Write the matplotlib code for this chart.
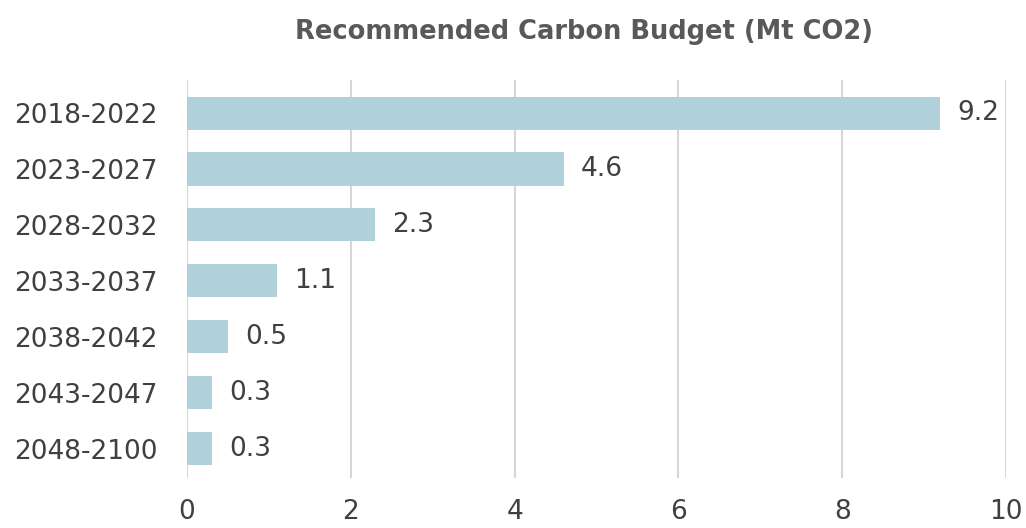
import matplotlib
matplotlib.use('Agg')
import matplotlib.pyplot as plt

periods = ['2018-2022', '2023-2027', '2028-2032', '2033-2037',
           '2038-2042', '2043-2047', '2048-2100']
budget = [9.2, 4.6, 2.3, 1.1, 0.5, 0.3, 0.3]
xticks = [0, 2, 4, 6, 8, 10]

plt.rcParams['font.family'] = ['DejaVu Sans']

fig = plt.figure(figsize=(10.26, 5.28), dpi=100)
ax = fig.add_axes([187/1026, 1-478/528, (1006-187)/1026, (478-80)/528])

ypos = list(range(len(periods)))
ax.barh(ypos, budget, height=0.59, color='#b0d0da', zorder=2)
for y, v in zip(ypos, budget):
    ax.text(v + 0.21, y, f'{v:.1f}', va='center', ha='left',
            fontsize=19, color='#404040')

ax.set_yticks(ypos)
ax.set_yticklabels(periods, fontsize=19, color='#404040')
ax.set_ylim(6.52, -0.59)
ax.set_xlim(0, 10)
ax.set_xticks(xticks)
ax.set_xticklabels([str(t) for t in xticks], fontsize=19, color='#404040')
ax.tick_params(length=0)
ax.tick_params(axis='x', pad=15)
ax.tick_params(axis='y', pad=21)
ax.grid(axis='x', color='#d6d6d6', lw=1.5, zorder=0)
for s in ax.spines.values():
    s.set_visible(False)

fig.text(584/1026, 1-32/528, 'Recommended Carbon Budget (Mt CO2)',
         ha='center', va='center', fontsize=18.5, fontweight='bold',
         color='#595959')

fig.savefig('out.png', dpi=100)
